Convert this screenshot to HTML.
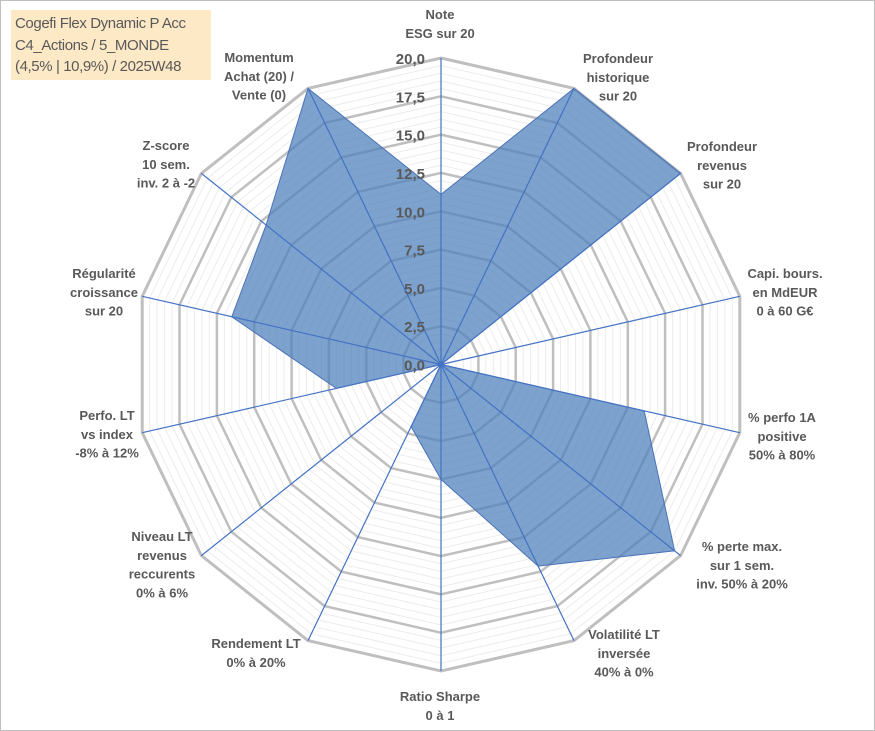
<!DOCTYPE html>
<html><head><meta charset="utf-8">
<style>
html,body{margin:0;padding:0;background:#fff;}
body{width:875px;height:731px;overflow:hidden;position:relative;font-family:"Liberation Sans",sans-serif;}
#frame{position:absolute;left:0;top:0;width:873px;height:729px;border:1px solid #bfbfbf;}
#title{position:absolute;left:11px;top:10px;width:200px;height:70px;background:#fde9c6;color:#595959;font-size:15px;letter-spacing:-0.4px;white-space:nowrap;line-height:21.5px;padding:3px 0 0 4px;box-sizing:border-box;}
svg{position:absolute;left:0;top:0;}
.lab{font-weight:bold;font-size:13px;fill:#595959;}
.tick{font-weight:bold;font-size:15px;fill:#595959;}
</style></head>
<body>
<div id="frame"></div>
<svg id="chart" width="875" height="731"></svg>
<div id="title">Cogefi Flex Dynamic P Acc<br>C4_Actions / 5_MONDE<br>(4,5% | 10,9%) / 2025W48</div>
<script>
const categories = [
 ["Note","ESG sur 20"],
 ["Profondeur","historique","sur 20"],
 ["Profondeur","revenus","sur 20"],
 ["Capi. bours.","en MdEUR","0 à 60 G€"],
 ["% perfo 1A","positive","50% à 80%"],
 ["% perte max.","sur 1 sem.","inv. 50% à 20%"],
 ["Volatilité LT","inversée","40% à 0%"],
 ["Ratio Sharpe","0 à 1"],
 ["Rendement LT","0% à 20%"],
 ["Niveau LT","revenus","reccurents","0% à 6%"],
 ["Perfo. LT","vs index","-8% à 12%"],
 ["Régularité","croissance","sur 20"],
 ["Z-score","10 sem.","inv. 2 à -2"],
 ["Momentum","Achat (20) /","Vente (0)"]
];
const values = [11.1, 20, 20, 0, 13.6, 19.5, 14.6, 7.5, 4.5, 0, 7, 14, 14.6, 20];
const tickLabels = ["0,0","2,5","5,0","7,5","10,0","12,5","15,0","17,5","20,0"];
const maxVal = 20;
// label anchor positions (layout, not data)
const labelPos = [[440,19],[618,63],[722,151],[785,278],[782,422],[742,551],[624,639],[440,701],[256,648],[162,541],[107,420],[104,278],[166,150],[259,62]];

const svg = document.getElementById('chart');
const NS = "http://www.w3.org/2000/svg";
const cx = 441, cy = 364.5, R = 306.5;
const n = categories.length;
function ang(i){ return i*2*Math.PI/n; }
function px(i,v){ return cx + (v/maxVal)*R*Math.sin(ang(i)); }
function py(i,v){ return cy - (v/maxVal)*R*Math.cos(ang(i)); }
function mk(tag, attrs){ const e=document.createElementNS(NS,tag); for(const k in attrs) e.setAttribute(k,attrs[k]); svg.appendChild(e); return e; }
function ring(v){ let p=[]; for(let i=0;i<n;i++) p.push(px(i,v).toFixed(1)+","+py(i,v).toFixed(1)); return p.join(" "); }

for(let k=1;k<40;k++){
  const v=k*0.5; if(Math.abs(v/2.5-Math.round(v/2.5))<1e-6) continue;
  const e=mk('polygon',{points:ring(v),fill:'none',stroke:'#ececec','stroke-width':1});
  
  
}
for(let k=1;k<=8;k++){
  const e=mk('polygon',{points:ring(k*2.5),fill:'none',stroke:'#bfbfbf','stroke-width':k==8?3:2.5});
  
  
}
const pts=values.map((v,i)=>px(i,v).toFixed(1)+","+py(i,v).toFixed(1)).join(" ");
const area=mk('polygon',{points:pts,fill:'rgb(79,129,189)','fill-opacity':0.74,stroke:'#4a72b8','stroke-width':1});


for(let i=0;i<n;i++){
  const e=mk('line',{x1:cx,y1:cy,x2:px(i,maxVal),y2:py(i,maxVal),stroke:'#4472c4','stroke-width':1.2});
  
  
}
tickLabels.forEach((t,k)=>{
  const e=mk('text',{x:cx-16,y:cy-(k*2.5/maxVal)*R+6,'text-anchor':'end',class:'tick'});
  e.textContent=t;
  
  
});
categories.forEach((lines,i)=>{
  const t=mk('text',{x:labelPos[i][0],y:labelPos[i][1],'text-anchor':'middle',class:'lab'});
  
  
  lines.forEach((l,j)=>{
    const s=document.createElementNS(NS,'tspan');
    s.setAttribute('x',labelPos[i][0]); s.setAttribute('dy', j==0?0:18.8);
    s.textContent=l; t.appendChild(s);
  });
});
</script>
</body></html>
